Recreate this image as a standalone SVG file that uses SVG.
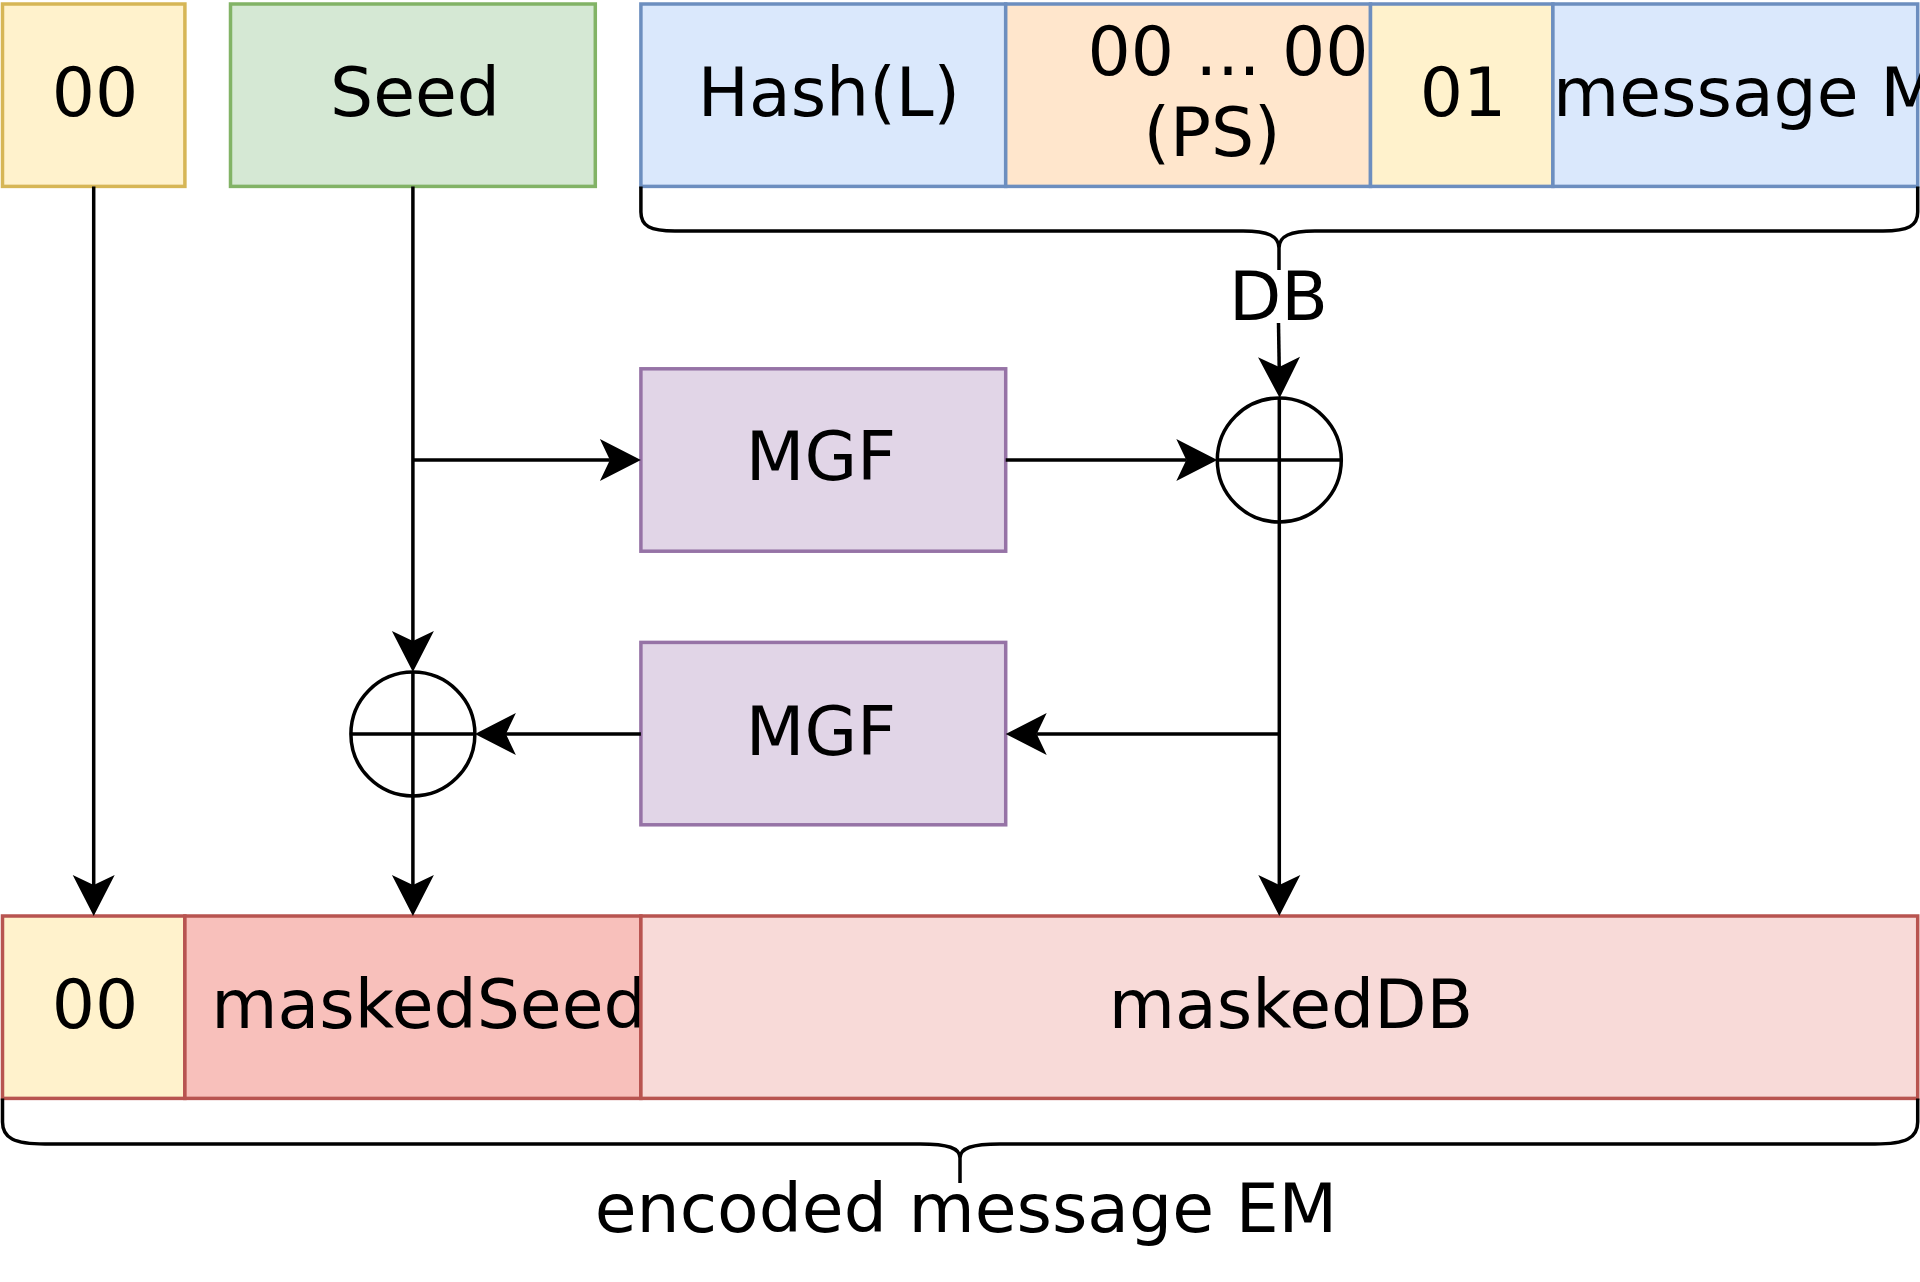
<svg xmlns="http://www.w3.org/2000/svg" width="1920" height="1282" viewBox="0 0 1920 1282">
<style>
  .box { stroke-width: 3.5; }
  .yellow { fill: #fff2cc; stroke: #d6b656; }
  .green { fill: #d5e8d4; stroke: #82b366; }
  .blue { fill: #dae8fc; stroke: #6c8ebf; }
  .orange { fill: #ffe6cc; stroke: #6c8ebf; }
  .yb { fill: #fff2cc; stroke: #6c8ebf; }
  .purple { fill: #e1d5e7; stroke: #9673a6; }
  .yr { fill: #fff2cc; stroke: #b85450; }
  .red { fill: #f8c0bb; stroke: #b85450; }
  .pink { fill: #f8dad8; stroke: #b85450; }
  .lbl { font-family: "DejaVu Sans", "Noto Sans", sans-serif; font-size: 68px; fill: #000; text-anchor: middle; }
  .edge { fill: none; stroke: #000; stroke-width: 3.5; }
  .xor { fill: none; stroke: #000; stroke-width: 3.5; }
</style>
<defs>
  <marker id="arr" markerUnits="userSpaceOnUse" markerWidth="46" markerHeight="44" viewBox="-12 -22 46 44" refX="0" refY="0" orient="auto" overflow="visible">
    <path d="M31,0 L-10,-21 L0,0 L-10,21 Z" fill="#000"/>
  </marker>
</defs>
<rect x="0" y="0" width="1920" height="1282" fill="#ffffff"/>

<g id="top-00"><rect class="box yellow" x="2.5" y="4" width="182.4" height="182.4"/><text class="lbl" x="95" y="116">00</text></g>
<g id="seed"><rect class="box green" x="230.5" y="4" width="364.8" height="182.4"/><text class="lbl" x="415" y="116">Seed</text></g>
<g id="hash"><rect class="box blue" x="640.9" y="4" width="364.8" height="182.4"/><text class="lbl" x="829" y="116">Hash(L)</text></g>
<g id="ps"><rect class="box orange" x="1005.7" y="4" width="364.8" height="182.4"/><text class="lbl" x="1228" y="75">00 ... 00</text><text class="lbl" x="1212" y="156">(PS)</text></g>
<g id="one"><rect class="box yb" x="1370.5" y="4" width="182.4" height="182.4"/><text class="lbl" x="1463" y="116">01</text></g>
<g id="msg"><rect class="box blue" x="1552.9" y="4" width="364.8" height="182.4"/><text class="lbl" x="1553" y="116" style="text-anchor:start">message M</text></g>

<g id="db-brace"><path class="edge" d="M640.9,186.4 L640.9,212 C640.9,226 650,231 675,231 L1243,231 C1268,231 1279,236 1279,248 L1279,270 M1279,248 C1279,236 1290,231 1315,231 L1883,231 C1908,231 1917.7,226 1917.7,212 L1917.7,186.4"/><text class="lbl" x="1278.5" y="320">DB</text></g>

<g id="mgf1"><rect class="box purple" x="640.9" y="368.8" width="364.8" height="182.4"/><text class="lbl" x="821" y="480">MGF</text></g>
<g id="mgf2"><rect class="box purple" x="640.9" y="642.4" width="364.8" height="182.4"/><text class="lbl" x="821" y="755">MGF</text></g>

<g id="xor1"><circle class="xor" cx="1279.3" cy="460" r="62"/><path class="xor" d="M1217.3,460 H1341.3 M1279.3,398 V522"/></g>
<g id="xor2"><circle class="xor" cx="412.9" cy="734" r="62"/><path class="xor" d="M350.9,734 H474.9 M412.9,672 V796"/></g>

<g id="bot-00"><rect class="box yr" x="2.5" y="916" width="182.4" height="182.4"/><text class="lbl" x="95" y="1028">00</text></g>
<g id="masked-seed"><rect class="box red" x="184.9" y="916" width="456" height="182.4"/><text class="lbl" x="429" y="1028">maskedSeed</text></g>
<g id="masked-db"><rect class="box pink" x="640.9" y="916" width="1276.8" height="182.4"/><text class="lbl" x="1291" y="1028">maskedDB</text></g>

<g id="em-brace"><path class="edge" d="M2.5,1098.4 L2.5,1122 C2.5,1138 14,1144 45,1144 L920,1144 C948,1144 960,1148 960,1158 L960,1183 M960,1158 C960,1148 972,1144 1000,1144 L1875,1144 C1906,1144 1917.7,1138 1917.7,1122 L1917.7,1098.4"/><text class="lbl" x="966" y="1232">encoded message EM</text></g>

<g id="connectors">
  <path class="edge" d="M93.7,186.4 V885" marker-end="url(#arr)"/>
  <path class="edge" d="M412.9,186.4 V641" marker-end="url(#arr)"/>
  <path class="edge" d="M412.9,460 H609.9" marker-end="url(#arr)"/>
  <path class="edge" d="M1005.7,460 H1186.3" marker-end="url(#arr)"/>
  <path class="edge" d="M1278.5,323 L1279.2,367" marker-end="url(#arr)"/>
  <path class="edge" d="M1279.3,522 V885" marker-end="url(#arr)"/>
  <path class="edge" d="M1279.3,734 H1036.7" marker-end="url(#arr)"/>
  <path class="edge" d="M640.9,734 H505.9" marker-end="url(#arr)"/>
  <path class="edge" d="M412.9,796 V885" marker-end="url(#arr)"/>
</g>
</svg>
